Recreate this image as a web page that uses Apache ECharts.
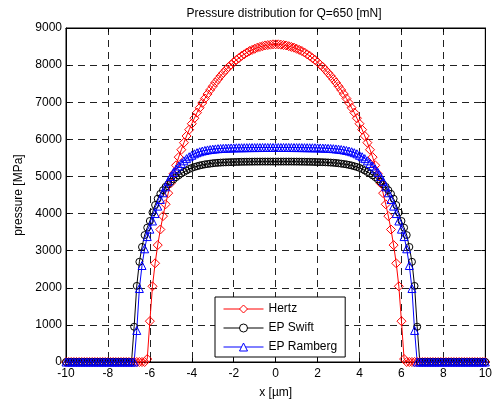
<!DOCTYPE html>
<html>
<head>
<meta charset="utf-8">
<script src="https://cdn.jsdelivr.net/npm/echarts@6/dist/echarts.min.js"></script>
<style>
html,body{margin:0;padding:0;background:#fff;}
#chart{width:495px;height:406px;}
</style>
</head>
<body>
<div id="chart"></div>
<script>
// x positions [µm]
var xs = [-10,-9.875,-9.75,-9.625,-9.5,-9.375,-9.25,-9.125,-9,-8.875,-8.75,-8.625,-8.5,-8.375,-8.25,-8.125,
-8,-7.875,-7.75,-7.625,-7.5,-7.375,-7.25,-7.125,-7,-6.875,-6.75,-6.625,-6.5,-6.375,-6.25,-6.125,
-6,-5.875,-5.75,-5.625,-5.5,-5.375,-5.25,-5.125,-5,-4.875,-4.75,-4.625,-4.5,-4.375,-4.25,-4.125,
-4,-3.875,-3.75,-3.625,-3.5,-3.375,-3.25,-3.125,-3,-2.875,-2.75,-2.625,-2.5,-2.375,-2.25,-2.125,
-2,-1.875,-1.75,-1.625,-1.5,-1.375,-1.25,-1.125,-1,-0.875,-0.75,-0.625,-0.5,-0.375,-0.25,-0.125,
0,
0.125,0.25,0.375,0.5,0.625,0.75,0.875,1,1.125,1.25,1.375,1.5,1.625,1.75,1.875,2,
2.125,2.25,2.375,2.5,2.625,2.75,2.875,3,3.125,3.25,3.375,3.5,3.625,3.75,3.875,4,
4.125,4.25,4.375,4.5,4.625,4.75,4.875,5,5.125,5.25,5.375,5.5,5.625,5.75,5.875,6,
6.125,6.25,6.375,6.5,6.625,6.75,6.875,7,7.125,7.25,7.375,7.5,7.625,7.75,7.875,8,
8.125,8.25,8.375,8.5,8.625,8.75,8.875,9,9.125,9.25,9.375,9.5,9.625,9.75,9.875,10];

// Hertz pressure [MPa]
var hertz = [0,0,0,0,0,0,0,0,0,0, 0,0,0,0,0,0,0,0,0,0, 0,0,0,0,0,0,0,0,0,0, 0,
80,
1100,2040,2660,3150,3570,3930,4250,4550,4820,5070,5300,5520,5720,5910,6090,6260,
6420,6570,6720,6850,6980,7100,7220,7330,7430,7530,7620,7710,7790,7870,7950,8010,
8080,8140,8190,8250,8290,8340,8380,8410,8440,8470,8490,8510,8530,8540,8550,8560,
8560,
8560,8550,8540,8530,8510,8490,8470,8440,8410,8380,8340,8290,8250,8190,8140,8080,
8010,7950,7870,7790,7710,7620,7530,7430,7330,7220,7100,6980,6850,6720,6570,6420,
6260,6090,5910,5720,5520,5300,5070,4820,4550,4250,3930,3570,3150,2660,2040,1100,
80,
0,0,0,0,0,0,0,0,0,0, 0,0,0,0,0,0,0,0,0,0, 0,0,0,0,0,0,0,0,0,0, 0];

// EP Swift pressure [MPa]
var swift = [0,0,0,0,0,0,0,0,0,0, 0,0,0,0,0,0,0,0,0,0, 0,0,0,0,0,0,
950,2050,2700,3100,3420,3620,
3800,4030,4230,4400,4530,4630,4720,4790,4860,4920,4980,5030,5080,5120,5160,5200,
5230,5255,5275,5295,5310,5325,5335,5345,5355,5362,5368,5373,5377,5380,5383,5386,
5388,5390,5392,5394,5395,5396,5397,5398,5399,5399,5400,5400,5400,5400,5400,5400,
5400,
5400,5400,5400,5400,5400,5400,5399,5399,5398,5397,5396,5395,5394,5392,5390,5388,
5386,5383,5380,5377,5373,5368,5362,5355,5345,5335,5325,5310,5295,5275,5255,5230,
5200,5160,5120,5080,5030,4980,4920,4860,4790,4720,4630,4530,4400,4230,4030,3800,
3620,3420,3100,2700,2050,950,
0,0,0,0,0,0,0,0,0,0, 0,0,0,0,0,0,0,0,0,0, 0,0,0,0,0,0];

// EP Ramberg pressure [MPa]
var ramberg = [0,0,0,0,0,0,0,0,0,0, 0,0,0,0,0,0,0,0,0,0, 0,0,0,0,0,0,0,
850,1980,2600,3050,3380,
3580,3800,4000,4200,4380,4560,4720,4870,5000,5110,5200,5280,5350,5420,5480,5530,
5570,5610,5640,5665,5685,5700,5715,5725,5735,5742,5748,5753,5758,5762,5765,5768,
5770,5772,5773,5774,5775,5776,5777,5778,5778,5779,5779,5780,5780,5780,5780,5780,
5780,
5780,5780,5780,5780,5780,5779,5779,5778,5778,5777,5776,5775,5774,5773,5772,5770,
5768,5765,5762,5758,5753,5748,5742,5735,5725,5715,5700,5685,5665,5640,5610,5570,
5530,5480,5420,5350,5280,5200,5110,5000,4870,4720,4560,4380,4200,4000,3800,3580,
3380,3050,2600,1980,850,
0,0,0,0,0,0,0,0,0,0, 0,0,0,0,0,0,0,0,0,0, 0,0,0,0,0,0,0];

var seriesNames = ['Hertz', 'EP Swift', 'EP Ramberg'];
var seriesColors = ['#ff0000', '#000000', '#0000ff'];
var titleText = 'Pressure distribution for Q=650 [mN]';
var xName = 'x [\u00b5m]';
var yName = 'pressure [MPa]';

function pairs(ys) {
  var out = [];
  for (var i = 0; i < xs.length; i++) out.push([xs[i], ys[i]]);
  return out;
}

var FONT = 'Liberation Sans, Arial, sans-serif';
var chart = echarts.init(document.getElementById('chart'), null, {renderer: 'canvas'});

function mkSeries(name, ys, color, symbol, size) {
  return {
    name: name,
    type: 'line',
    data: pairs(ys),
    symbol: symbol,
    symbolSize: size,
    showAllSymbol: true,
    showSymbol: true,
    lineStyle: {color: color, width: 1},
    itemStyle: {color: 'rgba(255,255,255,0)', borderColor: color, borderWidth: 1},
    emphasis: {disabled: true},
    animation: false,
    z: 3
  };
}

var legendData = seriesNames.map(function (n, i) {
  return {
    name: n,
    itemStyle: {color: '#fff', borderColor: seriesColors[i], borderWidth: 1},
    lineStyle: {color: seriesColors[i], width: 1}
  };
});

var tickStyle = {inside: true, length: 4, lineStyle: {color: '#000', width: 1}};
function plain(v) { return String(v); }

var option = {
  backgroundColor: '#fff',
  animation: false,
  title: {
    text: titleText,
    left: 279,
    textAlign: 'center',
    top: 3,
    textStyle: {fontFamily: FONT, fontSize: 12, fontWeight: 'normal', color: '#000'}
  },
  grid: {
    left: 66, top: 28, width: 426, height: 334,
    show: true, borderColor: '#000', borderWidth: 1, backgroundColor: '#fff'
  },
  legend: {
    data: legendData,
    orient: 'vertical',
    left: 215, top: 297,
    backgroundColor: '#fff',
    borderColor: '#000', borderWidth: 1,
    padding: [6, 8, 4, 8],
    itemWidth: 40, itemHeight: 10, itemGap: 7,
    itemStyle: {borderWidth: 1},
    lineStyle: {width: 1},
    textStyle: {fontFamily: FONT, fontSize: 12, color: '#000'},
    selectedMode: false
  },
  xAxis: [{
    type: 'value', min: -10, max: 10, interval: 2,
    position: 'bottom',
    name: xName, nameLocation: 'middle', nameGap: 25,
    nameTextStyle: {fontFamily: FONT, fontSize: 12, color: '#000'},
    axisLine: {show: true, onZero: false, lineStyle: {color: '#000', width: 1}},
    axisTick: tickStyle,
    axisLabel: {fontFamily: FONT, fontSize: 12, color: '#000', margin: 6, formatter: plain},
    splitLine: {show: true, lineStyle: {color: '#222', width: 1, type: [7, 5]}}
  }, {
    type: 'value', min: -10, max: 10, interval: 2,
    position: 'top',
    axisLine: {show: true, onZero: false, lineStyle: {color: '#000', width: 1}},
    axisTick: tickStyle,
    axisLabel: {show: false},
    splitLine: {show: false}
  }],
  yAxis: [{
    type: 'value', min: 0, max: 9000, interval: 1000,
    position: 'left',
    name: yName, nameLocation: 'middle', nameGap: 32, nameRotate: 90,
    nameTextStyle: {fontFamily: FONT, fontSize: 12, color: '#000'},
    axisLine: {show: true, onZero: false, lineStyle: {color: '#000', width: 1}},
    axisTick: tickStyle,
    axisLabel: {fontFamily: FONT, fontSize: 12, color: '#000', margin: 4, formatter: plain},
    splitLine: {show: true, lineStyle: {color: '#222', width: 1, type: [7, 5]}}
  }, {
    type: 'value', min: 0, max: 9000, interval: 1000,
    position: 'right',
    axisLine: {show: true, onZero: false, lineStyle: {color: '#000', width: 1}},
    axisTick: tickStyle,
    axisLabel: {show: false},
    splitLine: {show: false}
  }],
  series: [
    mkSeries(seriesNames[0], hertz, seriesColors[0], 'diamond', 9),
    mkSeries(seriesNames[1], swift, seriesColors[1], 'circle', 7),
    mkSeries(seriesNames[2], ramberg, seriesColors[2], 'triangle', 8)
  ]
};
chart.setOption(option);
</script>
</body>
</html>
